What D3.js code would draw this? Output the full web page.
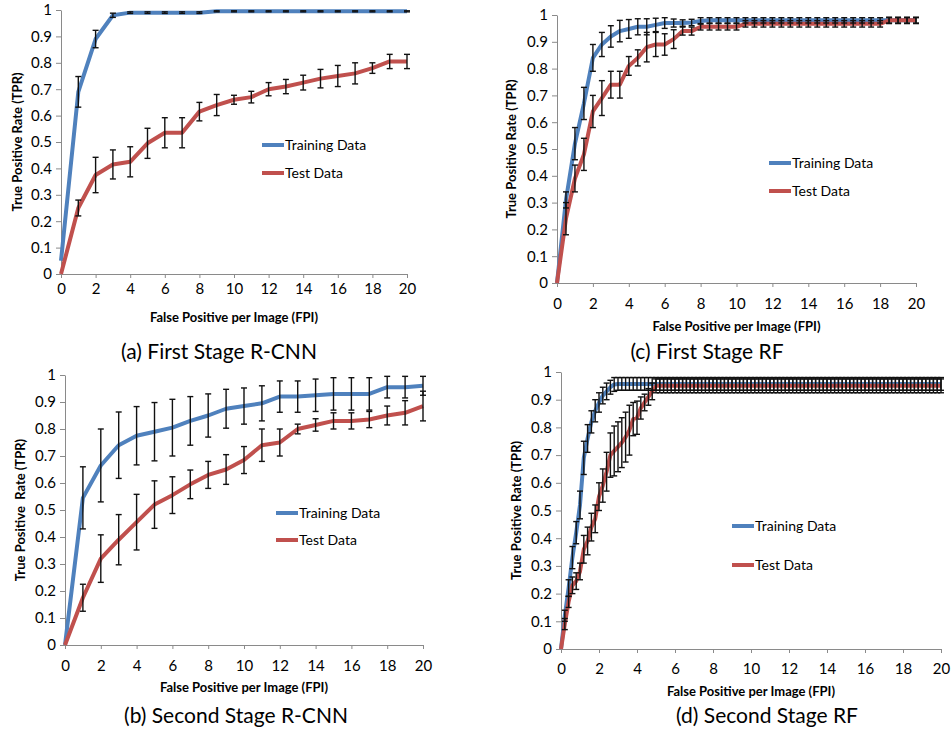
<!DOCTYPE html>
<html>
<head>
<meta charset="utf-8">
<title>ROC curves</title>
<script src="https://cdn.jsdelivr.net/npm/d3@7"></script>
<style>
  body { margin: 0; background: #fff; }
  text { font-family: Lato, "Open Sans", sans-serif; fill: #000; }
</style>
</head>
<body>
<div id="chart"></div>
<script>
// ---- data ----
var seriesNames = ["Training Data", "Test Data"]
var xTicks = [0, 2, 4, 6, 8, 10, 12, 14, 16, 18, 20]
var yTicks = [0, 0.1, 0.2, 0.3, 0.4, 0.5, 0.6, 0.7, 0.8, 0.9, 1]

// (a) First Stage R-CNN, FPI 0..20 step 1
var fpiA = [0,1,2,3,4,5,6,7,8,9,10,11,12,13,14,15,16,17,18,19,20]
var trainA = [0.05,0.69,0.89,0.98,0.99,0.99,0.99,0.99,0.99,0.995,0.995,0.995,0.995,0.995,0.995,0.995,0.995,0.995,0.995,0.995,0.995]
var trainErrA = [0,0.058,0.033,0.008,0.003,0.003,0.003,0.003,0.003,0.002,0.002,0.002,0.002,0.002,0.002,0.002,0.002,0.002,0.002,0.002,0.002]
var testA = [0,0.25,0.375,0.415,0.425,0.495,0.535,0.535,0.615,0.64,0.66,0.67,0.70,0.71,0.725,0.74,0.75,0.76,0.78,0.805,0.805]
var testErrA = [0,0.03,0.067,0.055,0.057,0.057,0.057,0.057,0.035,0.04,0.017,0.022,0.025,0.027,0.028,0.035,0.04,0.04,0.02,0.027,0.027]

// (b) Second Stage R-CNN, FPI 0..20 step 1
var fpiB = [0,1,2,3,4,5,6,7,8,9,10,11,12,13,14,15,16,17,18,19,20]
var trainB = [0,0.545,0.665,0.74,0.775,0.79,0.805,0.83,0.85,0.875,0.885,0.895,0.92,0.92,0.925,0.93,0.93,0.93,0.955,0.955,0.96]
var trainErrB = [0,0.115,0.135,0.123,0.108,0.108,0.105,0.09,0.08,0.072,0.067,0.065,0.058,0.058,0.06,0.06,0.06,0.06,0.04,0.04,0.035]
var testB = [0,0.175,0.32,0.39,0.455,0.52,0.555,0.595,0.63,0.65,0.685,0.74,0.75,0.80,0.815,0.83,0.83,0.835,0.85,0.86,0.885]
var testErrB = [0,0.05,0.088,0.093,0.103,0.088,0.068,0.053,0.05,0.055,0.05,0.06,0.05,0.018,0.023,0.03,0.03,0.03,0.035,0.045,0.055]

// (c) First Stage RF, FPI 0..20 step 0.5
var fpiC = [0,0.5,1,1.5,2,2.5,3,3.5,4,4.5,5,5.5,6,6.5,7,7.5,8,8.5,9,9.5,10,10.5,11,11.5,12,12.5,13,13.5,14,14.5,15,15.5,16,16.5,17,17.5,18,18.5,19,19.5,20]
var trainC = [0,0.31,0.52,0.67,0.84,0.89,0.92,0.94,0.948,0.956,0.956,0.963,0.97,0.97,0.97,0.972,0.978,
  0.98,0.98,0.98,0.98,0.98,0.98,0.98,0.98,0.98,0.98,0.98,0.98,0.98,0.98,0.98,0.98,0.98,0.98,0.98,0.98,0.98,0.98,0.98,0.98]
var trainErrC = [0,0.03,0.06,0.06,0.05,0.045,0.04,0.04,0.035,0.03,0.03,0.025,0.02,0.015,0.012,0.012,0.012,
  0.01,0.01,0.01,0.01,0.01,0.01,0.01,0.01,0.01,0.01,0.01,0.01,0.01,0.01,0.01,0.01,0.01,0.01,0.01,0.01,0.01,0.01,0.01,0.01]
var testC = [0,0.24,0.39,0.48,0.64,0.69,0.74,0.74,0.81,0.84,0.88,0.89,0.89,0.91,0.94,0.94,0.956,0.956,0.956,0.956,0.956,
  0.967,0.967,0.967,0.967,0.967,0.967,0.967,0.967,0.967,0.967,0.967,0.967,0.967,0.967,0.967,0.967,0.98,0.98,0.98,0.98]
var testErrC = [0,0.06,0.05,0.06,0.06,0.065,0.05,0.05,0.035,0.03,0.055,0.045,0.04,0.035,0.015,0.015,
  0.012,0.012,0.012,0.012,0.012,0.012,0.012,0.012,0.012,0.012,0.012,0.012,0.012,0.012,0.012,0.012,0.012,0.012,0.012,0.012,0.012,0.012,0.012,0.012,0.012]

// (d) Second Stage RF, FPI 0..20 step 0.2
var fpiD = d3.range(0, 101).map(i => +(i / 5).toFixed(1))
var trainD = [0,0.12,0.22,0.33,0.42,0.52,0.69,0.76,0.82,0.86,0.89,0.915,0.93,0.945,0.955,
  0.957,0.957,0.957,0.957,0.957,0.957,0.957,0.957,0.957,0.957,0.957,0.957,0.957,0.957,0.957,
  0.957,0.957,0.957,0.957,0.957,0.957,0.957,0.957,0.957,0.957,0.957,0.957,0.957,0.957,0.957,
  0.957,0.957,0.957,0.957,0.957,0.957,0.957,0.957,0.957,0.957,0.957,0.957,0.957,0.957,0.957,
  0.957,0.957,0.957,0.957,0.957,0.957,0.957,0.957,0.957,0.957,0.957,0.957,0.957,0.957,0.957,
  0.957,0.957,0.957,0.957,0.957,0.957,0.957,0.957,0.957,0.957,0.957,0.957,0.957,0.957,0.957,
  0.957,0.957,0.957,0.957,0.957,0.957,0.957,0.957,0.957,0.957,0.957]
var trainErrD = [0,0.02,0.03,0.04,0.04,0.05,0.06,0.05,0.04,0.04,0.035,0.03,0.03,0.025,0.025,
  0.023,0.023,0.023,0.023,0.023,0.023,0.023,0.023,0.023,0.023,0.023,0.023,0.023,0.023,0.023,
  0.023,0.023,0.023,0.023,0.023,0.023,0.023,0.023,0.023,0.023,0.023,0.023,0.023,0.023,0.023,
  0.023,0.023,0.023,0.023,0.023,0.023,0.023,0.023,0.023,0.023,0.023,0.023,0.023,0.023,0.023,
  0.023,0.023,0.023,0.023,0.023,0.023,0.023,0.023,0.023,0.023,0.023,0.023,0.023,0.023,0.023,
  0.023,0.023,0.023,0.023,0.023,0.023,0.023,0.023,0.023,0.023,0.023,0.023,0.023,0.023,0.023,
  0.023,0.023,0.023,0.023,0.023,0.023,0.023,0.023,0.023,0.023,0.023]
var testD = [0,0.09,0.17,0.23,0.245,0.28,0.36,0.39,0.44,0.47,0.55,0.59,0.64,0.70,0.715,
  0.73,0.745,0.765,0.79,0.83,0.835,0.87,0.89,0.91,0.93,0.95,
  0.95,0.95,0.95,0.95,0.95,0.95,0.95,0.95,0.95,0.95,0.95,0.95,0.95,0.95,0.95,
  0.95,0.95,0.95,0.95,0.95,0.95,0.95,0.95,0.95,0.95,0.95,0.95,0.95,0.95,0.95,
  0.95,0.95,0.95,0.95,0.95,0.95,0.95,0.95,0.95,0.95,0.95,0.95,0.95,0.95,0.95,
  0.95,0.95,0.95,0.95,0.95,0.95,0.95,0.95,0.95,0.95,0.95,0.95,0.95,0.95,0.95,
  0.95,0.95,0.95,0.95,0.95,0.95,0.95,0.95,0.95,0.95,0.95,0.95,0.95,0.95,0.95]
var testErrD = [0,0.02,0.02,0.03,0.03,0.03,0.05,0.05,0.05,0.05,0.05,0.06,0.07,0.08,0.09,
  0.09,0.09,0.09,0.09,0.06,0.06,0.04,0.03,0.03,0.03,0.025,
  0.025,0.025,0.025,0.025,0.025,0.025,0.025,0.025,0.025,0.025,0.025,0.025,0.025,0.025,0.025,
  0.025,0.025,0.025,0.025,0.025,0.025,0.025,0.025,0.025,0.025,0.025,0.025,0.025,0.025,0.025,
  0.025,0.025,0.025,0.025,0.025,0.025,0.025,0.025,0.025,0.025,0.025,0.025,0.025,0.025,0.025,
  0.025,0.025,0.025,0.025,0.025,0.025,0.025,0.025,0.025,0.025,0.025,0.025,0.025,0.025,0.025,
  0.025,0.025,0.025,0.025,0.025,0.025,0.025,0.025,0.025,0.025,0.025,0.025,0.025,0.025,0.025]

// ---- layout ----
var colors = ["#4f81bd", "#c0504d"]
var panels = [
  {fpi: fpiA, vals: [trainA, testA], errs: [trainErrA, testErrA], l: 61, r: 407, t: 10, b: 274,
   xPad: 5, xTitleY: 318, yTitleX: 17, ytitle: "True Positive Rate (TPR)", legX: 262, legY: [145, 173],
   caption: "(a) First Stage R-CNN", capX: 219, capY: 352},
  {fpi: fpiC, vals: [trainC, testC], errs: [trainErrC, testErrC], l: 557, r: 916, t: 15, b: 283,
   xPad: 11, xTitleY: 327, yTitleX: 511, ytitle: "True Positive Rate (TPR)", legX: 769, legY: [163, 191],
   caption: "(c) First Stage RF", capX: 707, capY: 352},
  {fpi: fpiB, vals: [trainB, testB], errs: [trainErrB, testErrB], l: 65, r: 423, t: 375, b: 645,
   xPad: 11, xTitleY: 688, yTitleX: 20, ytitle: "True Positive  Rate (TPR)", legX: 276, legY: [513, 540],
   caption: "(b) Second Stage R-CNN", capX: 236, capY: 716},
  {fpi: fpiD, vals: [trainD, testD], errs: [trainErrD, testErrD], l: 561, r: 941, t: 372, b: 649,
   xPad: 10, xTitleY: 692, yTitleX: 516, ytitle: "True Positive Rate (TPR)", legX: 732, legY: [526, 565],
   caption: "(d) Second Stage RF", capX: 767, capY: 716}
]

var svg = d3.select("#chart").append("svg").attr("width", 951).attr("height", 740)
svg.append("rect").attr("width", 951).attr("height", 740).attr("fill", "#fff")

panels.forEach(p => {
  var x = d3.scaleLinear().domain([0, 20]).range([p.l, p.r])
  var y = d3.scaleLinear().domain([0, 1]).range([p.b, p.t])
  var g = svg.append("g")

  var xa = g.append("g").attr("transform", "translate(0," + p.b + ")")
    .call(d3.axisBottom(x).tickValues(xTicks).tickSize(4).tickSizeOuter(0).tickPadding(p.xPad))
  var ya = g.append("g").attr("transform", "translate(" + p.l + ",0)")
    .call(d3.axisLeft(y).tickValues(yTicks).tickSize(5).tickSizeOuter(0).tickPadding(4)
      .tickFormat(d => d === 0 ? "0" : d === 1 ? "1" : d3.format(".1f")(d)))
  ;[xa, ya].forEach(a => {
    a.selectAll("path,line").attr("stroke", "#8a8a8a").attr("stroke-width", 1)
    a.selectAll("text").style("font-size", "15px").attr("fill", "#000")
  })

  // series lines
  var line = d3.line().x((d, i) => x(p.fpi[i])).y(d => y(d))
  p.vals.forEach((v, k) => {
    g.append("path").datum(v).attr("d", line).attr("fill", "none")
      .attr("stroke", colors[k]).attr("stroke-width", 4).attr("stroke-linejoin", "round")
  })

  // error bars
  p.vals.forEach((v, k) => {
    var eb = g.append("g").attr("stroke", "#111").attr("stroke-width", 1.4)
    v.forEach((val, i) => {
      var e = p.errs[k][i]
      if (!e) return
      var cx = x(p.fpi[i]), y1 = y(val + e), y2 = y(val - e)
      eb.append("line").attr("x1", cx).attr("x2", cx).attr("y1", y1).attr("y2", y2)
      eb.append("line").attr("x1", cx - 3).attr("x2", cx + 3).attr("y1", y1).attr("y2", y1)
      eb.append("line").attr("x1", cx - 3).attr("x2", cx + 3).attr("y1", y2).attr("y2", y2)
    })
  })

  // legend
  seriesNames.forEach((name, k) => {
    var ly = p.legY[k]
    g.append("line").attr("x1", p.legX).attr("x2", p.legX + 22).attr("y1", ly).attr("y2", ly)
      .attr("stroke", colors[k]).attr("stroke-width", 4)
    g.append("text").attr("x", p.legX + 23).attr("y", ly + 5).style("font-size", "14px").text(name)
  })

  // axis titles
  g.append("text").attr("x", (p.l + p.r) / 2).attr("y", p.xTitleY + 4)
    .attr("text-anchor", "middle").style("font-size", "13px").style("font-weight", "bold")
    .text("False Positive per Image (FPI)")
  g.append("text").attr("transform", "translate(" + p.yTitleX + "," + (p.t + p.b) / 2 + ") rotate(-90)")
    .attr("text-anchor", "middle").attr("dy", "0.35em").style("font-size", "13px").style("font-weight", "bold")
    .style("white-space", "pre").text(p.ytitle)

  // caption
  g.append("text").attr("x", p.capX).attr("y", p.capY + 7).attr("text-anchor", "middle")
    .style("font-size", "21px").text(p.caption)
})
</script>
</body>
</html>
